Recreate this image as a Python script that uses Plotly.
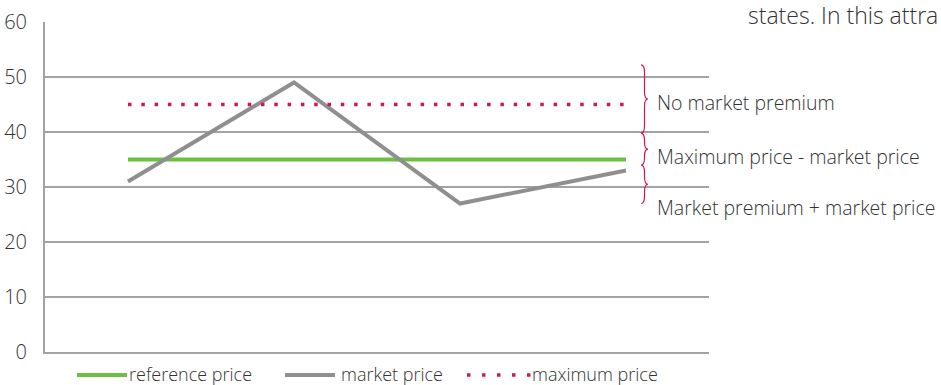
import plotly.graph_objects as go

# ---- data ----
periods = ["P1", "P2", "P3", "P4"]
reference_price = [35, 35, 35, 35]
market_price = [31, 49, 27, 33]
maximum_price = [45, 45, 45, 45]
series_names = ["reference price", "market price", "maximum price"]
y_ticks = [0, 10, 20, 30, 40, 50, 60]
brace_ranges = [(52.2, 39.8), (39.8, 34.0), (34.0, 27.0)]
brace_labels = ["No market premium", "Maximum price - market price", "Market premium + market price"]
label_values = [45.3, 35.5, 26.2]
side_text = "states. In this attra"

GREEN = "#6cbf43"
GRAY = "#8f8f8f"
PINK = "#d4145a"
GRID = "#a3a3a3"
TXT = "#333333"
FONT = "Open Sans"

x = list(range(len(periods)))

fig = go.Figure()
fig.add_trace(go.Scatter(x=x, y=reference_price, mode="lines", name=series_names[0],
                         line=dict(color=GREEN, width=4), showlegend=False))
fig.add_trace(go.Scatter(x=x, y=market_price, mode="lines", name=series_names[1],
                         line=dict(color=GRAY, width=4), showlegend=False))
fig.add_trace(go.Scatter(x=x, y=maximum_price, mode="lines", name=series_names[2],
                         line=dict(color=PINK, width=3.5, dash="3.5px,9.8px"), showlegend=False))

shapes = []
annotations = []

# braces
bx0, bw = 0.8976, 0.0105
for (yt, yb) in brace_ranges:
    ym = (yt + yb) / 2
    r = min(1.3, (yt - yb) / 4)
    xm = bx0 + bw / 2
    x1 = bx0 + bw
    path = (f"M {bx0},{yt} Q {xm},{yt} {xm},{yt - r} L {xm},{ym + r} "
            f"Q {xm},{ym} {x1},{ym} Q {xm},{ym} {xm},{ym - r} "
            f"L {xm},{yb + r} Q {xm},{yb} {bx0},{yb}")
    shapes.append(dict(type="path", path=path, xref="paper", yref="y",
                       line=dict(color=PINK, width=1.2)))

for lab, v in zip(brace_labels, label_values):
    annotations.append(dict(text=lab, x=0.9187, y=v, xref="paper", yref="y",
                            xanchor="left", yanchor="middle", showarrow=False,
                            font=dict(family=FONT, size=19.5, color=TXT, weight=300)))

annotations.append(dict(text=side_text, x=1.0557, y=1.021, xref="paper", yref="paper",
                        xanchor="left", yanchor="middle", showarrow=False,
                        font=dict(family=FONT, size=23, color=TXT, weight=300)))

# manual legend
leg_y = -0.070
legend_items = [
    (series_names[0], GREEN, "solid", 0.0482, 0.1235, 0.1235),
    (series_names[1], GRAY, "solid", 0.3614, 0.4367, 0.4428),
    (series_names[2], PINK, "3.5px,11.5px", 0.6355, 0.7319, 0.7305),
]
for name, col, dash, lx0, lx1, tx in legend_items:
    shapes.append(dict(type="line", xref="paper", yref="paper", x0=lx0, x1=lx1,
                       y0=leg_y, y1=leg_y,
                       line=dict(color=col, width=4 if dash == "solid" else 3.5, dash=dash)))
    annotations.append(dict(text=name, x=tx, y=leg_y + 0.002, xref="paper", yref="paper",
                            xanchor="left", yanchor="middle", showarrow=False,
                            font=dict(family=FONT, size=18, color=TXT, weight=300)))

fig.update_layout(
    width=941, height=385,
    margin=dict(l=45, r=232, t=22, b=33, autoexpand=False),
    paper_bgcolor="white", plot_bgcolor="white",
    shapes=shapes, annotations=annotations,
    showlegend=False,
    font=dict(family=FONT, color=TXT),
)
fig.update_xaxes(range=[-0.5, len(periods) - 0.5], showgrid=False, zeroline=False,
                 showticklabels=False, showline=True, linecolor=GRID, linewidth=2,
                 ticks="", tickvals=x, ticktext=periods, automargin=False)
fig.update_yaxes(range=[0, 60], tickvals=y_ticks, showgrid=True, gridcolor=GRID, gridwidth=2,
                 zeroline=False, showline=True, linecolor=GRID, linewidth=2, ticks="",
                 ticklabelstandoff=12, automargin=False,
                 tickfont=dict(family=FONT, size=20, color=TXT, weight=300))

fig.write_html("out.html")
